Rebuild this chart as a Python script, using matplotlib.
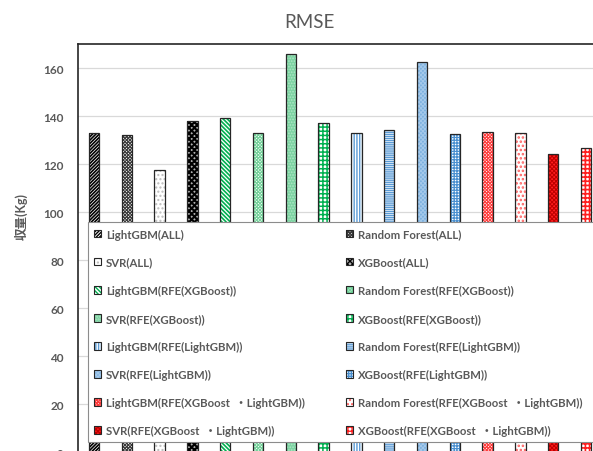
import matplotlib
matplotlib.use("Agg")
import matplotlib.pyplot as plt
from matplotlib.patches import Patch, Rectangle
from matplotlib.legend_handler import HandlerTuple

# RMSE per model / feature-selection combination
models = [
    "LightGBM(ALL)", "Random Forest(ALL)", "SVR(ALL)", "XGBoost(ALL)",
    "LightGBM(RFE(XGBoost))", "Random Forest(RFE(XGBoost))",
    "SVR(RFE(XGBoost))", "XGBoost(RFE(XGBoost))",
    "LightGBM(RFE(LightGBM))", "Random Forest(RFE(LightGBM))",
    "SVR(RFE(LightGBM))", "XGBoost(RFE(LightGBM))",
    "LightGBM(RFE(XGBoost  ・LightGBM))", "Random Forest(RFE(XGBoost  ・LightGBM))",
    "SVR(RFE(XGBoost  ・LightGBM))", "XGBoost(RFE(XGBoost  ・LightGBM))",
]
rmse = [133.0, 132.1, 117.8, 138.0,
        139.3, 133.2, 165.8, 137.2,
        132.9, 134.3, 162.5, 132.5,
        133.3, 132.9, 124.2, 126.8]
y_ticks = [0, 20, 40, 60, 80, 100, 120, 140, 160]

# fill / hatch styling for each bar
face_colors = ["white", "white", "white", "#b0b0b0",
               "white", "white", "#7dd3a2", "white",
               "white", "white", "#7db1df", "white",
               "white", "white", "#ff1f1f", "white"]
hatches = ["//////////", "xxxxxxxxxx", "....", "xxxxxx",
           "\\\\\\\\\\\\\\\\", "xxxxxxxxxx", "......", "++++",
           "||||||", "--------", "xxxxxxxx", "++++++",
           "xxxxxxxxxx", "....", "xxxxxxxx", "++++"]
hatch_colors = ["black", "#3a3a3a", "#bdbdbd", "black",
                "#00b050", "#74d19a", "#b0e6c6", "#00b050",
                "#5b9bd5", "#5b9bd5", "#a3c8ea", "#4a90d0",
                "#ff3b3b", "#ff6060", "#c00000", "#ff2020"]
hatch_widths = [1.2, 0.8, 1.0, 1.5,
                1.2, 0.8, 0.8, 1.1,
                1.0, 1.0, 0.8, 0.9,
                0.8, 1.2, 0.8, 1.2]
edge_color = "#262626"
text_color = "#595959"

plt.rcParams["font.family"] = ["Lato", "Noto Sans CJK JP", "DejaVu Sans"]


def main():
    fig = plt.figure(figsize=(5.93, 4.52), dpi=100)
    W, H = 593.0, 452.0
    ax = fig.add_axes([77.7 / W, -1.3 / H, 1 - 77.7 / W, 408 / H])

    x = list(range(len(rmse)))
    handles = []
    for i in x:
        with plt.rc_context({"hatch.linewidth": hatch_widths[i]}):
            ax.bar(i, rmse[i], width=0.32, color=face_colors[i], hatch=hatches[i],
                   edgecolor=hatch_colors[i], linewidth=0, zorder=2)
            fill_patch = Patch(facecolor=face_colors[i], hatch=hatches[i],
                               edgecolor=hatch_colors[i], linewidth=0)
        ax.bar(i, rmse[i], width=0.32, fill=False, edgecolor=edge_color,
               linewidth=0.9, zorder=3)
        handles.append((fill_patch, Patch(fill=False, edgecolor=edge_color, linewidth=0.8)))

    ax.set_xlim(-0.497, 15.213)
    ax.set_ylim(0, 170)
    ax.set_yticks(y_ticks)
    ax.set_xticks([])
    ax.grid(axis="y", color="#d9d9d9", linewidth=0.9)
    ax.set_axisbelow(True)
    ax.tick_params(axis="y", length=0, pad=10, labelsize=8.5, labelcolor=text_color)
    for lab in ax.get_yticklabels():
        lab.set_fontweight("bold")
    for side in ["right", "bottom"]:
        ax.spines[side].set_visible(False)
    for side in ["left", "top"]:
        ax.spines[side].set_color("#262626")
        ax.spines[side].set_linewidth(1.2)

    fig.text(309.5 / W, 1 - 22 / H, "RMSE", ha="center", va="center",
             fontsize=13.5, color=text_color)
    fig.text(21 / W, 1 - 216 / H, "収量(Kg)", rotation=90, ha="center", va="center",
             fontsize=9, fontweight="bold", color=text_color)

    # white legend panel covering the lower half of the plot
    panel = Rectangle((88.3 / W, 1 - 442.7 / H), 1.0, (442.7 - 222.7) / H,
                      transform=fig.transFigure, facecolor="white",
                      edgecolor="#8c8c8c", linewidth=0.8, zorder=4)
    fig.patches.append(panel)

    leg_kw = dict(loc="upper left", frameon=False, borderpad=0, borderaxespad=0,
                  handlelength=0.65, handleheight=0.65, handletextpad=0.4,
                  labelspacing=1.5, labelcolor=text_color,
                  prop={"size": 8.2, "weight": "bold"},
                  handler_map={tuple: HandlerTuple(ndivide=1, pad=0)})
    for col, x0 in enumerate([94.0, 346.0]):
        idx = list(range(col, len(models), 2))
        leg = fig.legend([handles[k] for k in idx], [models[k] for k in idx],
                         bbox_to_anchor=(x0 / W, 1 - 229.5 / H), **leg_kw)
        leg.set_zorder(6)

    fig.savefig("out.png", dpi=100)


if __name__ == "__main__":
    main()
